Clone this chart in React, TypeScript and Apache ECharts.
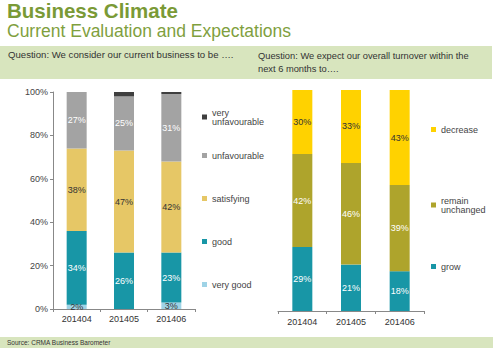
import React, { useEffect, useRef } from "react";
import * as echarts from "echarts";

const periods = ["201404", "201405", "201406"];

// Current business (left), bottom to top
const veryGood = [2, 0, 3];
const good = [34, 26, 23];
const satisfying = [38, 47, 42];
const unfavourable = [27, 25, 31];
const veryUnfavourable = [0, 2, 1];

// Expected turnover (right), bottom to top
const grow = [29, 21, 18];
const remainUnchanged = [42, 46, 39];
const decrease = [30, 33, 43];

const yTicks = [0, 20, 40, 60, 80, 100];

const FONT = "Liberation Sans, Arial, sans-serif";

export default function App() {
  const ref = useRef<HTMLDivElement>(null);
  useEffect(() => {
    if (!ref.current) return;
    const chart = echarts.init(ref.current, undefined, { renderer: "svg" });

    const pct = (p: any) => (p.value > 0 ? p.value + "%" : "");
    const mk = (
      name: string,
      data: number[],
      color: string,
      labelColor: string,
      axis: number,
      showLabel = true
    ) => ({
      name,
      type: "bar",
      stack: axis === 0 ? "L" : "R",
      xAxisIndex: axis,
      yAxisIndex: axis,
      data,
      barWidth: 20,
      itemStyle: { color },
      label: {
        show: showLabel,
        position: "inside",
        formatter: pct,
        color: labelColor,
        fontSize: 9,
        fontFamily: FONT,
      },
      clip: true,
    });

    const legendItem = (name: string, left: number, top: number) => ({
      data: [name],
      left,
      top,
      orient: "vertical",
      itemWidth: 5,
      itemHeight: 5,
      icon: "rect",
      textStyle: { fontSize: 9, color: "#444", fontFamily: FONT, lineHeight: 9 },
      formatter: (n: string) =>
        n === "very unfavourable" ? "very\nunfavourable" : n === "remain unchanged" ? "remain\nunchanged" : n,
    });

    const axisLabelStyle = { fontSize: 9, color: "#333", fontFamily: FONT };

    chart.setOption({
      animation: false,
      textStyle: { fontFamily: FONT },
      grid: [
        { left: 53, top: 92, width: 142, height: 217 },
        { left: 278, top: 90, width: 146, height: 221 },
      ],
      xAxis: [
        {
          gridIndex: 0,
          type: "category",
          data: periods,
          axisLine: { lineStyle: { color: "#888" } },
          axisTick: { show: true, length: 3, lineStyle: { color: "#888" } },
          axisLabel: { ...axisLabelStyle, margin: 5 },
        },
        {
          gridIndex: 1,
          type: "category",
          data: periods,
          axisLine: { lineStyle: { color: "#888" } },
          axisTick: { show: true, length: 3, lineStyle: { color: "#888" } },
          axisLabel: { ...axisLabelStyle, margin: 6 },
        },
      ],
      yAxis: [
        {
          gridIndex: 0,
          type: "value",
          min: yTicks[0],
          max: yTicks[yTicks.length - 1],
          interval: 20,
          axisLine: { show: true, lineStyle: { color: "#888" } },
          axisTick: { show: true, length: 3, lineStyle: { color: "#888" } },
          splitLine: { show: false },
          axisLabel: { ...axisLabelStyle, color: "#444", formatter: "{value}%", margin: 5 },
        },
        {
          gridIndex: 1,
          type: "value",
          min: 0,
          max: 100,
          show: false,
          splitLine: { show: false },
        },
      ],
      legend: [
        legendItem("very unfavourable", 197, 103),
        legendItem("unfavourable", 197, 146),
        legendItem("satisfying", 197, 189),
        legendItem("good", 197, 232),
        legendItem("very good", 197, 275),
        legendItem("decrease", 426, 120),
        legendItem("remain unchanged", 426, 191),
        legendItem("grow", 426, 257),
      ],
      series: [
        mk("very good", veryGood, "#9fd3e6", "#333", 0),
        mk("good", good, "#1896a6", "#fff", 0),
        mk("satisfying", satisfying, "#e6c766", "#333", 0),
        mk("unfavourable", unfavourable, "#a3a3a3", "#fff", 0),
        mk("very unfavourable", veryUnfavourable, "#3f3f3f", "#fff", 0, false),
        mk("grow", grow, "#1896a6", "#fff", 1),
        mk("remain unchanged", remainUnchanged, "#aea42c", "#fff", 1),
        mk("decrease", decrease, "#ffd200", "#333", 1),
      ],
      graphic: [
        { type: "rect", shape: { x: 0, y: 46, width: 492, height: 33 }, style: { fill: "#d8e5be" }, z: 0 },
        { type: "rect", shape: { x: 0, y: 337, width: 493, height: 11 }, style: { fill: "#d8e5be" }, z: 0 },
        {
          type: "text",
          x: 7,
          y: 0,
          z: 5,
          style: { text: "Business Climate", fill: "#7a9a36", font: "bold 20.5px " + FONT },
        },
        {
          type: "text",
          x: 7,
          y: 22,
          z: 5,
          style: { text: "Current Evaluation and Expectations", fill: "#7f9f3e", font: "17.5px " + FONT },
        },
        {
          type: "text",
          x: 8,
          y: 49,
          z: 5,
          style: { text: "Question: We consider our current business to be ….", fill: "#333", font: "9.6px " + FONT },
        },
        {
          type: "text",
          x: 258,
          y: 49,
          z: 5,
          style: {
            text: "Question: We expect our overall turnover within the\nnext 6 months to….",
            fill: "#333",
            font: "9.3px " + FONT,
            lineHeight: 13.5,
          },
        },
        {
          type: "text",
          x: 7,
          y: 339,
          z: 5,
          style: { text: "Source: CRMA Business Barometer", fill: "#333", font: "6.5px " + FONT },
        },
      ],
    });
    return () => chart.dispose();
  }, []);
  return <div ref={ref} style={{ width: 500, height: 352, position: "absolute", left: 0, top: 0 }} />;
}
